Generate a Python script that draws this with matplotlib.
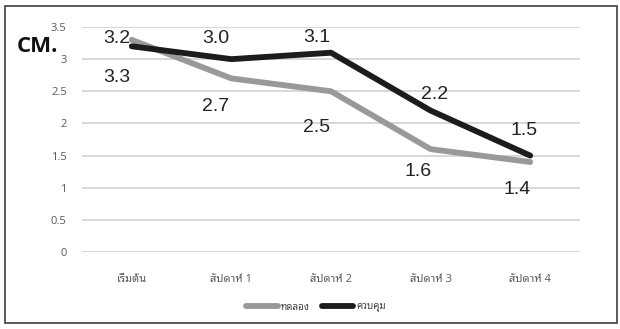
import matplotlib
matplotlib.use("Agg")
import matplotlib.pyplot as plt
from matplotlib.patches import Rectangle

weeks = ["เริ่มต้น", "สัปดาห์ 1", "สัปดาห์ 2", "สัปดาห์ 3", "สัปดาห์ 4"]
trial = [3.3, 2.7, 2.5, 1.6, 1.4]      # ทดลอง
control = [3.2, 3.0, 3.1, 2.2, 1.5]    # ควบคุม
yticks = [0, 0.5, 1, 1.5, 2, 2.5, 3, 3.5]

# label nudges in pixels (dx, dy)
trial_off = [(-15, -38), (-16, -28), (-14, -36), (-13, -22), (-13, -28)]
control_off = [(-15, 8), (-16, 21), (-14, 15), (4, 16), (-6, 25)]

thai = ["Open Sans", "Noto Sans Thai Looped", "Sarabun", "DejaVu Sans"]

fig = plt.figure(figsize=(6.2, 3.29), dpi=100)
fig.patches.append(Rectangle((5 / 620, 6 / 329), 612 / 620, 317 / 329,
                             transform=fig.transFigure, fill=False,
                             edgecolor="#404040", linewidth=1.2))

ax = fig.add_axes([82 / 620, 1 - 252 / 329, 498 / 620, 225 / 329])
x = list(range(len(weeks)))
ax.plot(x, trial, color="#999999", lw=4.2, solid_capstyle="round", label="ทดลอง", zorder=3)
ax.plot(x, control, color="#1c1c1c", lw=4.2, solid_capstyle="round", label="ควบคุม", zorder=4)

px = 0.72
for i, v in enumerate(control):
    dx, dy = control_off[i]
    ax.annotate("%.1f" % v, (i, v), xytext=(dx * px, dy * px), textcoords="offset points",
                ha="center", va="center", fontsize=14, family="Liberation Sans",
                color="#222222", zorder=5)
for i, v in enumerate(trial):
    dx, dy = trial_off[i]
    ax.annotate("%.1f" % v, (i, v), xytext=(dx * px, dy * px), textcoords="offset points",
                ha="center", va="center", fontsize=14, family="Liberation Sans",
                color="#222222", zorder=5)

ax.set_xlim(-0.5, 4.5)
ax.set_ylim(0, 3.5)
ax.set_yticks(yticks)
ax.set_yticklabels([("%g" % t) for t in yticks], family="Open Sans", fontsize=8, color="#595959")
ax.set_xticks(x)
ax.set_xticklabels(weeks, family=thai, fontsize=8, color="#595959")
ax.tick_params(axis="y", length=0, pad=11)
ax.tick_params(axis="x", length=0, pad=16)
ax.grid(axis="y", color="#d4d4d4", lw=1.3)
ax.set_axisbelow(True)
for s in ax.spines.values():
    s.set_visible(False)

fig.text(17 / 620, 1 - 46 / 329, "CM.", fontsize=16, fontweight="bold",
         family="Open Sans", color="#111111", va="center", ha="left")

leg = fig.legend(loc="center", bbox_to_anchor=(316 / 620, 1 - 307 / 329), ncol=2,
                 frameon=False, prop={"family": thai, "size": 7},
                 handlelength=3.2, handletextpad=0.3, columnspacing=1.3)
for t in leg.get_texts():
    t.set_color("#404040")

fig.savefig("out.png", dpi=100)
